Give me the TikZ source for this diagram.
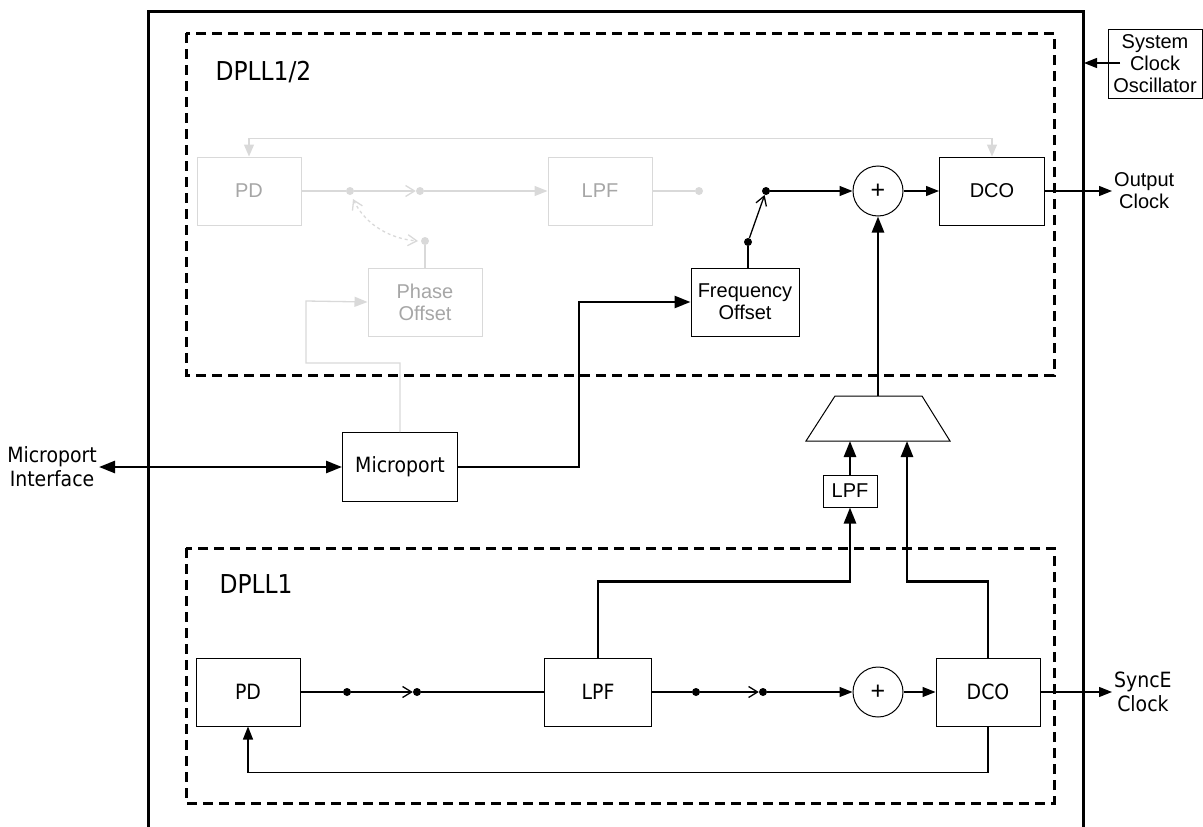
\documentclass[tikz,border=0pt]{standalone}
\usepackage{fontspec}
\setmainfont{Liberation Sans}
\newfontfamily\tahfont{DejaVu Sans Condensed}
\usepackage{tikz}
\usetikzlibrary{arrows.meta,calc}
\definecolor{grayline}{HTML}{D9D9D9}
\definecolor{graytext}{HTML}{A6A6A6}

\begin{document}
\begin{tikzpicture} [x=1pt, y=-1pt,
    blk/.style={draw, line width=1pt, minimum width=104pt, minimum height=68pt, inner sep=0pt, align=center, font=\fontsize{20}{22}\selectfont},
    gblk/.style={blk, draw=grayline, text=graytext},
    tah/.style={font=\tahfont\fontsize{21}{24}\selectfont},
    sum/.style={draw, circle, line width=1pt, minimum size=50pt, inner sep=0pt, font=\fontsize{25}{25}\selectfont},
    dot/.style={circle, fill, inner sep=0pt, minimum size=8pt},
    gdot/.style={dot, fill=grayline},
    lbl/.style={align=center, inner sep=2pt, font=\fontsize{20}{22}\selectfont},
    sig/.style={line width=1.3pt, -{Triangle[length=13pt,width=10pt]}},
    bus/.style={line width=2.6pt, -{Triangle[length=16pt,width=12pt]}},
    sw/.style={line width=1.3pt, -{Straight Barb[length=9pt,width=11pt]}},
    wire/.style={line width=1.3pt},
    gwire/.style={line width=1.3pt, draw=grayline},
    frame/.style={line width=3pt, dash pattern=on 10pt off 6pt},
  ]
    \useasboundingbox (0,0) rectangle (1203,827);

    % chip and the two DPLL frames
    \draw[line width=3pt] (148,840) |- (1083,11) -- (1083,840);
    \draw[frame] (186,33) rectangle (1054,375);
    \draw[frame] (186,548) rectangle (1054,803);
    \node[anchor=west, tah, font=\tahfont\fontsize{26}{26}\selectfont] (dpllt) at (212,72) {DPLL1/2};
    \node[anchor=west, tah, font=\tahfont\fontsize{26}{26}\selectfont] (dpllb) at (216,584) {DPLL1};

    % DPLL1/2 (active part)
    \node[blk, minimum width=108pt] (freq) at (745,302) {Frequency\\Offset};
    \node[sum] (sumt) at (878,191) {+};
    \node[blk, minimum width=105pt] (dcot) at (992,191) {DCO};
    \node[dot] (s1) at (748,242) {};
    \node[dot] (s2) at (766,191) {};
    \node[lbl, anchor=west] (outclk) at (1112,191) {Output\\Clock};

    \draw[wire] (s1 |- freq.north) -- (s1);
    \draw[sw] (s1) -- (s2);
    \draw[sig] (s2) -- (sumt.west);
    \draw[sig] (sumt.east) -- (dcot.west);
    \draw[sig] (dcot.east) -- (outclk.west);

    % DPLL1/2 (greyed part)
    \node[gblk] (pdg) at (249,191) {PD};
    \node[gblk] (lpfg) at (600,191) {LPF};
    \node[gblk, minimum width=114pt] (phase) at (425,302) {Phase\\Offset};
    \node[gdot] (g1) at (350,191) {};
    \node[gdot] (g2) at (420,191) {};
    \node[gdot] (g3) at (699,191) {};
    \node[gdot] (g4) at (425,241) {};
    \coordinate (ga) at (353,199);
    \coordinate (gb) at (418,241);

    \draw[gwire, {Triangle[length=12pt,width=10pt]}-{Triangle[length=12pt,width=10pt]}, grayline]
        (pdg.north) -- ++(0,-18) -| (dcot.north);
    \draw[gwire] (pdg.east) -- (g1);
    \draw[sw, grayline] (g1) -- (g2);
    \draw[sig, grayline] (g2) -- (lpfg.west);
    \draw[gwire] (lpfg.east) -- (g3);
    \draw[gwire] (g4) -- (phase.north);
    \draw[gwire, dashed, {Straight Barb[length=9pt,width=11pt]}-{Straight Barb[length=9pt,width=11pt]}]
        (ga) .. controls (366,226) and (392,239) .. (gb);

    % system clock
    \node[draw, line width=1pt, minimum width=94pt, minimum height=69pt, inner sep=0pt, align=center,
          font=\fontsize{20}{22}\selectfont] (sysclk) at (1155,63.5) {System\\Clock\\Oscillator};
    \coordinate (sysin) at (1120,63);
    \coordinate (chipin) at (1084,63);
    \draw[sig] (sysin) -- (chipin);

    % microport
    \node[blk, tah, minimum width=115pt, minimum height=69pt] (mport) at (400,467) {Microport};
    \node[lbl, tah, anchor=east] (mpi) at (99,467) {Microport\\Interface};
    \draw[bus, {Triangle[length=16pt,width=12pt]}-{Triangle[length=16pt,width=12pt]}] (mpi.east) -- (mport.west);
    \draw[bus] (mport.east) -- ++(121,0) |- (freq.west);
    \draw[sig, grayline] (mport.north) -- ++(0,-69) -| ++(-94,-62) -- (phase.west);

    % selector
    \coordinate (muxtop) at (878,396);
    \coordinate (muxa) at (850,441);
    \coordinate (muxb) at (907,441);
    \draw[line width=1pt] (835,396) -- (922,396) -- (950,441) -- (806,441) -- cycle;
    \node[blk, minimum width=54pt, minimum height=32pt] (lpfs) at (850,491) {LPF};
    \draw[bus] (muxtop) -- (sumt.south);
    \draw[bus] (lpfs.north) -- (muxa);

    % DPLL1
    \node[blk, tah] (pdb) at (248,692) {PD};
    \node[blk, tah, minimum width=107pt] (lpfb) at (598,692) {LPF};
    \node[sum] (sumb) at (878,692) {+};
    \node[blk, tah] (dcob) at (988,692) {DCO};
    \node[dot] (b1) at (347,692) {};
    \node[dot] (b2) at (417,692) {};
    \node[dot] (b3) at (696,692) {};
    \node[dot] (b4) at (763,692) {};
    \node[lbl, tah, anchor=west] (synce) at (1112,692) {SyncE\\Clock};

    \draw[wire] (pdb.east) -- (b1);
    \draw[sw] (b1) -- (b2);
    \draw[wire] (b2) -- (lpfb.west);
    \draw[wire] (lpfb.east) -- (b3);
    \draw[sw] (b3) -- (b4);
    \draw[sig] (b4) -- (sumb.west);
    \draw[sig] (sumb.east) -- (dcob.west);
    \draw[sig] (dcob.east) -- (synce.west);
    \draw[sig] (dcob.south) -- ++(0,46) -| (pdb.south);
    \draw[bus] (lpfb.north) -- ++(0,-76) -| (lpfs.south);
    \draw[bus] (dcob.north) -- ++(0,-76) -| (muxb);

\end{tikzpicture}
\end{document}
